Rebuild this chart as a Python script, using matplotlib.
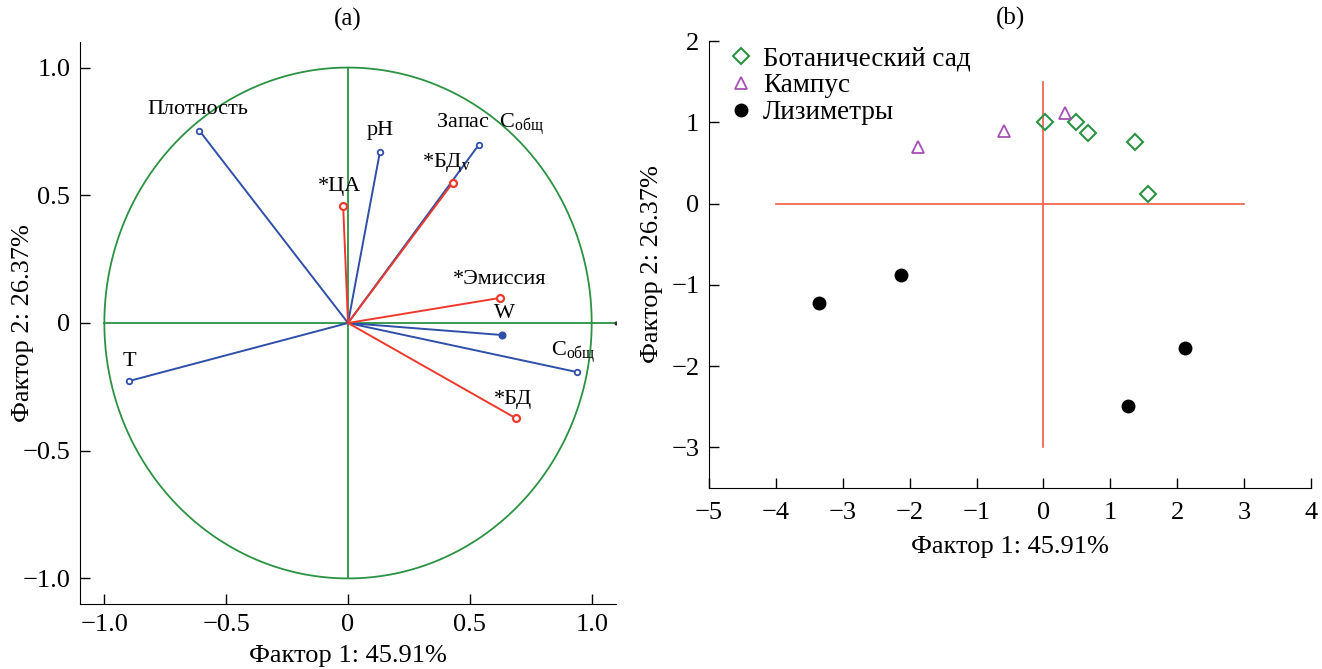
import numpy as np
import matplotlib
matplotlib.use("Agg")
import matplotlib.pyplot as plt

plt.rcParams['font.family'] = ['Liberation Serif', 'DejaVu Serif']
plt.rcParams['mathtext.fontset'] = 'custom'
plt.rcParams['mathtext.rm'] = 'Liberation Serif'
plt.rcParams['mathtext.it'] = 'Liberation Serif:italic'

# (a) loadings: name, x, y, group (blue = variable, red = supplementary)
var_names = ['Плотность', 'pH', r'Запас  C$_{\mathrm{общ}}$', 'W', r'C$_{\mathrm{общ}}$', 'T']
var_x = [-0.61, 0.131, 0.537, 0.631, 0.939, -0.898]
var_y = [0.753, 0.670, 0.698, -0.047, -0.192, -0.227]
var_lx = [-0.615, 0.131, 0.582, 0.643, 0.922, -0.898]
var_ly = [0.835, 0.753, 0.780, 0.039, -0.114, -0.149]
var_filled = [False, False, False, True, False, False]

sup_names = [r'*БД$_{\mathrm{v}}$', '*ЦА', '*Эмиссия', '*БД']
sup_x = [0.430, -0.020, 0.623, 0.689]
sup_y = [0.549, 0.459, 0.098, -0.373]
sup_lx = [0.406, -0.033, 0.623, 0.676]
sup_ly = [0.627, 0.533, 0.169, -0.298]

# (b) scores
bot_x = [0.02, 0.49, 0.67, 1.375, 1.56]
bot_y = [1.00, 1.00, 0.87, 0.76, 0.124]
camp_x = [-1.88, -0.59, 0.32]
camp_y = [0.70, 0.89, 1.12]
lys_x = [-3.36, -2.13, 2.11, 1.26]
lys_y = [-1.22, -0.877, -1.78, -2.49]

blue = '#2f4fa8'
red = '#ee3a2c'
green = '#2b9243'

fig = plt.figure(figsize=(13.22, 6.69), dpi=100)
ax1 = fig.add_axes([0.0605, 0.0972, 0.4055, 0.840])
ax2 = fig.add_axes([0.5363, 0.2706, 0.4554, 0.668])

# ---- panel (a)
t = np.linspace(0, 2 * np.pi, 400)
ax1.plot(np.cos(t), np.sin(t), color=green, lw=1.3)
ax1.plot([-1, 1.1], [0, 0], color=green, lw=1.3)
ax1.plot([0, 0], [-1, 1], color=green, lw=1.3)
ax1.plot([1.1], [0], 'o', color='#333333', ms=2)

for x, y, f in zip(var_x, var_y, var_filled):
    ax1.plot([0, x], [0, y], color=blue, lw=1.4)
    ax1.plot(x, y, 'o', ms=4.5 if f else 4, mec=blue, mfc=blue if f else 'white', mew=1.3)
for x, y in zip(sup_x, sup_y):
    ax1.plot([0, x], [0, y], color=red, lw=1.4)
    ax1.plot(x, y, 'o', ms=5, mec=red, mfc='white', mew=1.6)

for n, x, y in zip(var_names, var_lx, var_ly):
    ax1.text(x, y, n, ha='center', va='center', fontsize=16)
for n, x, y in zip(sup_names, sup_lx, sup_ly):
    ax1.text(x, y, n, ha='center', va='center', fontsize=16)

ax1.set_xlim(-1.1, 1.1)
ax1.set_ylim(-1.1, 1.1)
ticks_a = [-1.0, -0.5, 0, 0.5, 1.0]
labels_a = ['−1.0', '−0.5', '0', '0.5', '1.0']
ax1.set_xticks(ticks_a)
ax1.set_xticklabels(labels_a)
ax1.set_yticks(ticks_a)
ax1.set_yticklabels(labels_a)
ax1.set_xlabel('Фактор 1: 45.91%', fontsize=19, labelpad=7)
ax1.set_ylabel('Фактор 2: 26.37%', fontsize=19)
ax1.yaxis.set_label_coords(-0.086, 0.5)
ax1.set_title('(a)', fontsize=18, pad=12)

# ---- panel (b)
ax2.plot([-4, 3], [0, 0], color='#f05a48', lw=1.2)
ax2.plot([0, 0], [-3, 1.5], color='#f05a48', lw=1.2)
ax2.plot(bot_x, bot_y, 'D', ls='none', ms=8, mec=green, mfc='none', mew=1.5,
         label='Ботанический сад')
ax2.plot(camp_x, camp_y, '^', ls='none', ms=8, mec='#a64fb4', mfc='none', mew=1.3,
         label='Кампус')
ax2.plot(lys_x, lys_y, 'o', ls='none', ms=9, color='black', label='Лизиметры')

ax2.set_xlim(-5, 4)
ax2.set_ylim(-3.5, 2)
ax2.set_xticks(range(-5, 5))
ax2.set_xticklabels([str(v).replace('-', '−') for v in range(-5, 5)])
ax2.set_yticks(range(-3, 3))
ax2.set_yticklabels([str(v).replace('-', '−') for v in range(-3, 3)])
ax2.set_xlabel('Фактор 1: 45.91%', fontsize=19, labelpad=9)
ax2.set_ylabel('Фактор 2: 26.37%', fontsize=19, labelpad=6)
ax2.set_title('(b)', fontsize=18, pad=12)
ax2.legend(loc='upper left', frameon=False, fontsize=19.5, handletextpad=0.2,
           handlelength=1.2, labelspacing=0.08, borderaxespad=0.2,
           bbox_to_anchor=(0.0, 1.025))

for ax in (ax1, ax2):
    ax.spines['top'].set_visible(False)
    ax.spines['right'].set_visible(False)
    ax.tick_params(direction='in', length=7, width=1, labelsize=19, pad=7)
ax2.tick_params(axis='x', pad=10)

fig.savefig('out.png', dpi=100)
